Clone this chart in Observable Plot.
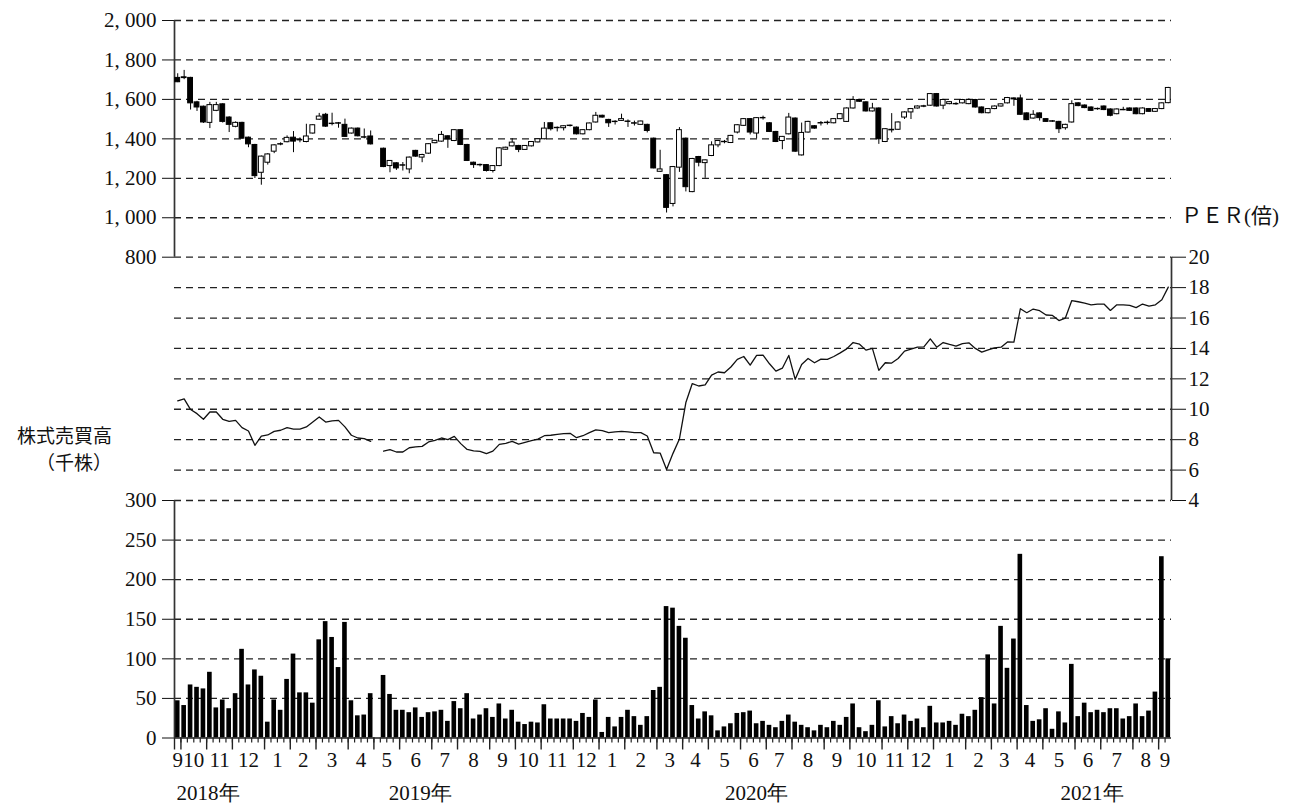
<!DOCTYPE html>
<html><head><meta charset="utf-8">
<script src="https://cdn.jsdelivr.net/npm/d3@7"></script>
<script src="https://cdn.jsdelivr.net/npm/@observablehq/plot@0.6"></script>
<style>
html,body{margin:0;padding:0;background:#fff;overflow:hidden;}
#wrap{position:relative;width:1291px;height:808px;overflow:hidden;background:#fff;}
#wrap svg{position:absolute;left:0;top:0;}
.lbl{position:absolute;font-family:"Noto Sans CJK JP",sans-serif;font-size:20px;color:#111;white-space:nowrap;}
.per{font-family:"Liberation Serif","Noto Sans CJK JP",serif;font-size:21px;line-height:1;}
</style></head><body>
<div id="wrap">
<div class="lbl" style="left:8px;top:421px;width:104px;text-align:right;font-size:19px;line-height:27px;">株式売買高<br>（千株）</div>
<div class="lbl per" style="left:1181px;top:206px;">ＰＥＲ(倍)</div>
</div>
<script>
// ---- data (weekly, first week ends Sat 2018-09-29; index 31 = Golden Week 2019, no trading) ----
const firstWeekEnd = "2018-09-29";
const volume = [47,41,67,64,62,83,38,48,37,56,
 112,67,86,78,20,48,35,74,106,57,
 57,44,124,147,127,89,146,47,28,29,
 56,null,79,55,35,35,32,38,26,32,
 33,35,21,46,37,56,24,29,37,26,
 43,24,35,20,17,20,19,42,24,24,
 24,24,21,31,26,48,7,26,14,26,
 35,27,16,27,60,64,166,164,141,126,
 41,24,33,28,9,14,18,31,32,34,
 18,21,16,13,21,29,20,16,13,9,
 16,13,21,16,26,43,13,8,16,47,
 14,27,18,29,21,24,13,40,19,19,
 21,16,30,27,35,51,105,43,141,88,
 125,232,41,21,23,37,11,33,19,93,
 27,44,32,35,32,37,37,24,27,43,
 27,34,58,229,100];
const open = [1709,1712,1709,1585,1563,1481,1542,1575,1508,1461,
 1481,1406,1369,1228,1279,1335,1373,1383,1406,1395,
 1384,1427,1497,1522,1477,1479,1471,1427,1452,1408,
 1412,null,1350,1262,1276,1266,1245,1339,1305,1325,
 1378,1386,1413,1389,1444,1369,1279,1268,1267,1237,
 1262,1345,1362,1364,1344,1362,1382,1398,1479,1456,
 1454,1467,1457,1423,1444,1483,1517,1496,1487,1491,
 1488,1479,1471,1471,1401,1233,1216,1070,1254,1401,
 1130,1308,1277,1313,1367,1385,1379,1432,1466,1500,
 1427,1506,1479,1435,1389,1423,1503,1316,1432,1464,
 1480,1482,1479,1500,1486,1554,1597,1585,1539,1554,
 1384,1446,1446,1508,1534,1554,1565,1568,1627,1568,
 1576,1577,1580,1576,1597,1559,1530,1551,1564,1580,
 1600,1605,1529,1503,1529,1500,1489,1486,1454,1483,
 1580,1569,1559,1552,1564,1549,1525,1547,1554,1554,
 1525,1551,1537,1551,1581];
const high = [1730,1747,1712,1590,1566,1585,1585,1578,1512,1486,
 1484,1409,1372,1313,1325,1370,1380,1415,1437,1405,
 1474,1472,1529,1529,1530,1483,1500,1455,1455,1450,
 1440,null,1353,1290,1279,1280,1308,1342,1322,1375,
 1393,1437,1416,1446,1447,1372,1282,1272,1270,1264,
 1355,1358,1401,1367,1366,1386,1400,1483,1482,1460,
 1466,1470,1460,1446,1480,1534,1520,1499,1492,1525,
 1496,1490,1490,1474,1404,1342,1219,1260,1457,1404,
 1301,1311,1293,1385,1392,1392,1418,1472,1503,1503,
 1508,1515,1482,1438,1412,1529,1506,1480,1489,1467,
 1488,1490,1503,1528,1557,1614,1600,1588,1580,1557,
 1452,1528,1486,1537,1554,1567,1570,1630,1630,1600,
 1589,1583,1600,1603,1600,1562,1554,1567,1578,1610,
 1608,1622,1532,1543,1532,1503,1492,1489,1474,1593,
 1583,1572,1562,1556,1567,1552,1552,1560,1557,1557,
 1557,1554,1554,1583,1661];
const low = [1685,1700,1546,1539,1478,1452,1538,1480,1432,1456,
 1398,1355,1199,1165,1267,1325,1365,1380,1330,1380,
 1380,1424,1494,1458,1466,1454,1407,1424,1410,1400,
 1369,null,1254,1228,1240,1237,1223,1306,1279,1322,
 1375,1383,1352,1386,1366,1285,1250,1258,1232,1227,
 1259,1342,1359,1330,1341,1359,1379,1395,1440,1435,
 1440,1460,1420,1420,1441,1480,1505,1458,1470,1488,
 1458,1465,1468,1430,1248,1230,1024,1055,1230,1131,
 1127,1258,1200,1310,1355,1375,1376,1425,1463,1420,
 1400,1495,1432,1381,1345,1420,1332,1313,1429,1449,
 1465,1470,1476,1497,1483,1551,1585,1536,1536,1372,
 1381,1430,1443,1498,1498,1551,1558,1565,1561,1548,
 1573,1570,1577,1573,1556,1527,1527,1548,1561,1577,
 1565,1519,1492,1500,1490,1483,1484,1427,1444,1480,
 1563,1553,1539,1545,1543,1512,1522,1543,1539,1522,
 1522,1534,1534,1548,1578];
const close = [1687,1708,1580,1559,1483,1571,1571,1486,1471,1481,
 1401,1372,1211,1310,1321,1367,1371,1405,1386,1392,
 1412,1469,1513,1462,1475,1477,1410,1452,1413,1406,
 1372,null,1257,1288,1250,1264,1305,1310,1318,1373,
 1390,1420,1396,1444,1369,1288,1267,1266,1237,1262,
 1352,1355,1381,1344,1364,1384,1398,1452,1449,1454,
 1464,1465,1423,1444,1478,1517,1508,1479,1485,1500,
 1486,1477,1488,1440,1250,1245,1050,1257,1444,1155,
 1298,1279,1291,1367,1389,1383,1415,1469,1500,1432,
 1505,1504,1435,1384,1410,1508,1335,1430,1486,1452,
 1478,1480,1500,1525,1554,1597,1588,1539,1554,1398,
 1449,1443,1483,1534,1551,1564,1563,1627,1564,1597,
 1586,1575,1597,1597,1559,1530,1551,1564,1575,1607,
 1605,1522,1495,1522,1505,1486,1487,1449,1471,1576,
 1566,1556,1542,1550,1546,1517,1549,1545,1542,1525,
 1554,1537,1551,1580,1658];
const per = [10.55,10.68,9.98,9.71,9.34,9.82,9.82,9.34,9.21,9.27,
 8.79,8.57,7.63,8.24,8.31,8.55,8.62,8.79,8.70,8.70,
 8.84,9.16,9.49,9.16,9.23,9.27,8.84,8.29,8.11,8.07,
 7.89,null,7.25,7.34,7.19,7.19,7.47,7.52,7.56,7.85,
 7.96,8.11,8.00,8.22,7.74,7.36,7.27,7.23,7.08,7.25,
 7.69,7.76,7.89,7.71,7.82,7.93,8.04,8.26,8.29,8.35,
 8.40,8.42,8.13,8.26,8.46,8.64,8.59,8.46,8.51,8.55,
 8.51,8.46,8.46,8.24,7.14,7.12,6.04,7.10,8.05,10.44,
 11.69,11.53,11.60,12.25,12.45,12.40,12.78,13.28,13.47,12.90,
 13.54,13.56,12.99,12.51,12.70,13.54,11.97,12.95,13.34,13.06,
 13.30,13.28,13.47,13.71,13.97,14.39,14.28,13.89,14.00,12.56,
 13.06,13.04,13.34,13.82,13.95,14.08,14.10,14.63,14.08,14.39,
 14.26,14.15,14.32,14.37,14.00,13.76,13.91,14.04,14.08,14.43,
 14.41,16.61,16.35,16.59,16.48,16.20,16.17,15.83,16.00,17.15,
 17.07,16.98,16.87,16.92,16.92,16.50,16.87,16.87,16.83,16.68,
 16.92,16.78,16.87,17.20,18.03];
const priceTicks = [800,1000,1200,1400,1600,1800,2000];
const perTicks = [4,6,8,10,12,14,16,18,20];
const volumeTicks = [0,50,100,150,200,250,300];
const yearLabels = ["2018年","2019年","2020年","2021年"];
const yearLabelDates = ["2018-11-01","2019-06-20","2020-06-20","2021-06-20"];

// ---- derived table ----
const first = new Date(firstWeekEnd + "T00:00:00Z");
const rows = volume.map((v, i) => {
  const date = d3.utcDay.offset(first, 7 * i);
  return {date, start: d3.utcHour.offset(date, -84), end: d3.utcHour.offset(date, 84),
    volume: v, open: open[i], high: high[i], low: low[i], close: close[i], per: per[i]};
});
const candles = rows.filter(d => d.open != null);
const xDomain = [rows[0].start, rows[rows.length - 1].end];
const weekBounds = rows.slice(1).map(d => d.start);
const monthBounds = rows.filter((d, i) => i === 0 || d.date.getUTCMonth() !== rows[i - 1].date.getUTCMonth()).map(d => d.start);
const monthLabels = d3.groups(rows, d => d.date.getUTCFullYear() * 100 + d.date.getUTCMonth())
  .map(([k, ds]) => ({date: new Date(d3.mean(ds, d => +d.date)), label: String(ds[0].date.getUTCMonth() + 1)}));
const years = yearLabels.map((t, i) => ({label: t, date: new Date(yearLabelDates[i] + "T00:00:00Z")}));

const W = 1291, H = 808;
const serif = '"Liberation Serif", "DejaVu Serif", serif';
const dash = {stroke: "#222", strokeWidth: 1.3, strokeDasharray: "7,5"};
const axisLine = {stroke: "#333", strokeWidth: 1.7};
const common = {
  width: W, height: H, marginLeft: 174, marginRight: 120,
  x: {type: "utc", domain: xDomain, axis: null},
  style: {background: "transparent", fontFamily: serif, fontSize: "21px", color: "#111", overflow: "visible"}
};

const pricePlot = Plot.plot({
  ...common, marginTop: 20, marginBottom: H - 256.7,
  y: {domain: [800, 2000], ticks: priceTicks, tickSize: 12, tickPadding: 6, label: null,
      tickFormat: d => d3.format(",")(d).replace(",", ", ")},
  marks: [
    Plot.ruleY(priceTicks, dash),
    Plot.ruleX([xDomain[0]], axisLine),
    Plot.ruleX(candles, {x: "date", y1: "low", y2: "high", stroke: "#000", strokeWidth: 1}),
    Plot.rect(candles, {filter: d => d.close < d.open, x1: "start", x2: "end", y1: "open", y2: "close",
      insetLeft: 0.8, insetRight: 0.8, fill: "#000", stroke: "#000", strokeWidth: 1}),
    Plot.rect(candles, {filter: d => d.close >= d.open, x1: "start", x2: "end", y1: "open", y2: "close",
      insetLeft: 0.8, insetRight: 0.8, fill: "#fff", stroke: "#000", strokeWidth: 1})
  ]
});

const perPlot = Plot.plot({
  ...common, marginTop: 256.7, marginBottom: H - 500,
  y: {domain: [4, 20], axis: "right", ticks: perTicks, tickSize: 14, tickPadding: 3, label: null},
  marks: [
    Plot.ruleY(perTicks.filter(v => v > 4 && v < 20), dash),
    Plot.ruleX([xDomain[1]], axisLine),
    Plot.line(rows, {x: "date", y: "per", stroke: "#111", strokeWidth: 1.3})
  ]
});

const volPlot = Plot.plot({
  ...common, marginTop: 500, marginBottom: H - 737.5,
  y: {domain: [0, 300], ticks: volumeTicks, tickSize: 12, tickPadding: 6, label: null},
  marks: [
    Plot.ruleY(volumeTicks.filter(v => v > 0), dash),
    Plot.rect(rows.filter(d => d.volume != null), {x1: "start", x2: "end", y1: () => 0, y2: "volume",
      insetLeft: 0.9, insetRight: 0.9, fill: "#000"}),
    Plot.ruleX([xDomain[0]], axisLine),
    Plot.ruleY([0], {stroke: "#222", strokeWidth: 1.5}),
    Plot.ruleX(weekBounds, {x: d => d, y1: () => 0, y2: () => 0, insetBottom: -5, stroke: "#222", strokeWidth: 1.2}),
    Plot.ruleX(monthBounds, {x: d => d, y1: () => 0, y2: () => 0, insetBottom: -12, stroke: "#222", strokeWidth: 1.4}),
    Plot.text(monthLabels, {x: "date", text: "label", frameAnchor: "bottom", dy: 28.5, fontSize: 21, fill: "#111"}),
    Plot.text(years, {x: "date", text: "label", frameAnchor: "bottom", dy: 62, fontSize: 21, fill: "#111"})
  ]
});

const wrap = document.getElementById("wrap");
[volPlot, perPlot, pricePlot].forEach(p => wrap.insertBefore(p, wrap.firstChild));
</script>
</body></html>
